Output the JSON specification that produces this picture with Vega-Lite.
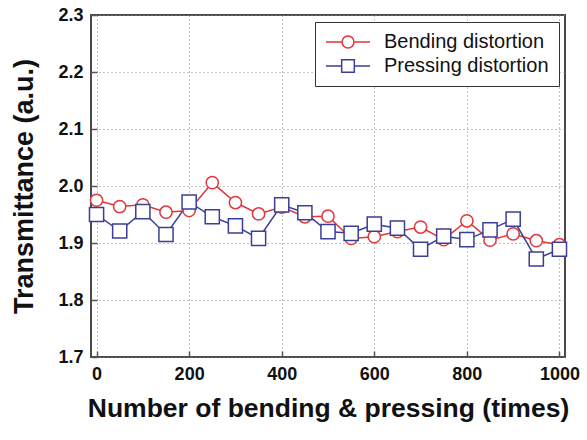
{
  "$schema": "https://vega.github.io/schema/vega-lite/v6.json",
  "width": 474,
  "height": 342,
  "autosize": "none",
  "padding": {"left": 91, "top": 15, "right": 22, "bottom": 83},
  "background": "white",
  "config": {
    "font": "Liberation Sans",
    "view": {"stroke": "#4a4a4a", "strokeWidth": 2},
    "axis": {
      "grid": true,
      "gridColor": "#888888",
      "gridDash": [1, 3],
      "gridWidth": 1,
      "domain": false,
      "tickColor": "#555555",
      "tickSize": -6,
      "tickWidth": 1.5,
      "labelFont": "Liberation Sans",
      "labelFontWeight": "bold",
      "labelFontSize": 18,
      "labelColor": "#111111",
      "titleFont": "Liberation Sans",
      "titleFontWeight": "bold",
      "titleColor": "#111111"
    }
  },
  "data": {
    "values": [
      {"n": 0, "s": "Bending distortion", "v": 1.975},
      {"n": 50, "s": "Bending distortion", "v": 1.964},
      {"n": 100, "s": "Bending distortion", "v": 1.967},
      {"n": 150, "s": "Bending distortion", "v": 1.954},
      {"n": 200, "s": "Bending distortion", "v": 1.957},
      {"n": 250, "s": "Bending distortion", "v": 2.006},
      {"n": 300, "s": "Bending distortion", "v": 1.971},
      {"n": 350, "s": "Bending distortion", "v": 1.951},
      {"n": 400, "s": "Bending distortion", "v": 1.963},
      {"n": 450, "s": "Bending distortion", "v": 1.946},
      {"n": 500, "s": "Bending distortion", "v": 1.947},
      {"n": 550, "s": "Bending distortion", "v": 1.908},
      {"n": 600, "s": "Bending distortion", "v": 1.911},
      {"n": 650, "s": "Bending distortion", "v": 1.920},
      {"n": 700, "s": "Bending distortion", "v": 1.928},
      {"n": 750, "s": "Bending distortion", "v": 1.906},
      {"n": 800, "s": "Bending distortion", "v": 1.939},
      {"n": 850, "s": "Bending distortion", "v": 1.905},
      {"n": 900, "s": "Bending distortion", "v": 1.916},
      {"n": 950, "s": "Bending distortion", "v": 1.904},
      {"n": 1000, "s": "Bending distortion", "v": 1.897},
      {"n": 0, "s": "Pressing distortion", "v": 1.950},
      {"n": 50, "s": "Pressing distortion", "v": 1.921},
      {"n": 100, "s": "Pressing distortion", "v": 1.955},
      {"n": 150, "s": "Pressing distortion", "v": 1.915},
      {"n": 200, "s": "Pressing distortion", "v": 1.972},
      {"n": 250, "s": "Pressing distortion", "v": 1.946},
      {"n": 300, "s": "Pressing distortion", "v": 1.930},
      {"n": 350, "s": "Pressing distortion", "v": 1.908},
      {"n": 400, "s": "Pressing distortion", "v": 1.967},
      {"n": 450, "s": "Pressing distortion", "v": 1.953},
      {"n": 500, "s": "Pressing distortion", "v": 1.920},
      {"n": 550, "s": "Pressing distortion", "v": 1.917},
      {"n": 600, "s": "Pressing distortion", "v": 1.933},
      {"n": 650, "s": "Pressing distortion", "v": 1.926},
      {"n": 700, "s": "Pressing distortion", "v": 1.889},
      {"n": 750, "s": "Pressing distortion", "v": 1.912},
      {"n": 800, "s": "Pressing distortion", "v": 1.906},
      {"n": 850, "s": "Pressing distortion", "v": 1.923},
      {"n": 900, "s": "Pressing distortion", "v": 1.942},
      {"n": 950, "s": "Pressing distortion", "v": 1.872},
      {"n": 1000, "s": "Pressing distortion", "v": 1.889}
    ]
  },
  "encoding": {
    "x": {
      "field": "n",
      "type": "quantitative",
      "scale": {"domain": [-12, 1012], "nice": false, "zero": false},
      "axis": {
        "values": [0, 200, 400, 600, 800, 1000],
        "format": "d",
        "title": "Number of bending & pressing (times)",
        "titleFontSize": 26.5,
        "titlePadding": 12,
        "labelPadding": 14
      }
    },
    "y": {
      "field": "v",
      "type": "quantitative",
      "scale": {"domain": [1.7, 2.3], "nice": false, "zero": false},
      "axis": {
        "values": [1.7, 1.8, 1.9, 2.0, 2.1, 2.2, 2.3],
        "format": ".1f",
        "title": "Transmittance (a.u.)",
        "titleFontSize": 27,
        "titleBaseline": "alphabetic",
        "titleX": -59,
        "labelPadding": 14
      }
    },
    "stroke": {
      "field": "s",
      "type": "nominal",
      "scale": {"domain": ["Bending distortion", "Pressing distortion"], "range": ["#e2353c", "#3a3f97"]},
      "legend": {
        "title": null,
        "orient": "none",
        "legendX": 224,
        "legendY": 7,
        "strokeColor": "#333333",
        "fillColor": "white",
        "padding": 10,
        "labelFont": "Liberation Sans",
        "labelFontSize": 20,
        "labelColor": "#111111",
        "labelLimit": 400,
        "symbolSize": 310,
        "symbolOffset": 13,
        "symbolStrokeWidth": 1.5,
        "rowPadding": 4,
        "labelOffset": 26,
        "encode": {
          "symbols": {
            "update": {
              "shape": {"signal": "datum.value === 'Bending distortion' ? 'M-2.5,0H-0.68M0.68,0H2.5M-0.68,0A0.68,0.68 0 1,1 0.68,0A0.68,0.68 0 1,1 -0.68,0' : 'M-2.5,0H-0.72M0.72,0H2.5M-0.72,-0.72H0.72V0.72H-0.72Z'"},
              "fillOpacity": {"value": 0},
              "strokeWidth": {"value": 1.5}
            }
          }
        }
      }
    }
  },
  "layer": [
    {"mark": {"type": "line", "strokeWidth": 1.5}},
    {
      "transform": [{"filter": "datum.s === 'Bending distortion'"}],
      "mark": {"type": "point", "shape": "circle", "size": 150, "filled": false, "fill": "white", "fillOpacity": 1, "strokeWidth": 1.5}
    },
    {
      "transform": [{"filter": "datum.s === 'Pressing distortion'"}],
      "mark": {"type": "point", "shape": "square", "size": 200, "filled": false, "fill": "white", "fillOpacity": 1, "strokeWidth": 1.5}
    }
  ]
}
